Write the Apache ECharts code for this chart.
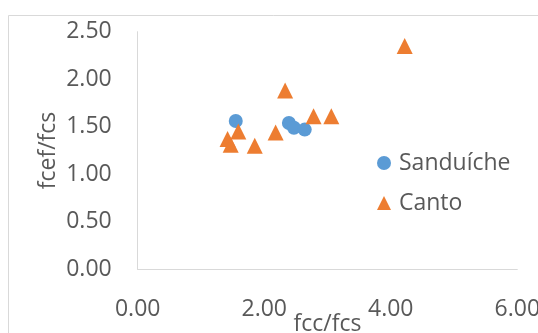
<!DOCTYPE html>
<html>
<head>
<meta charset="utf-8">
<title>fcef/fcs vs fcc/fcs</title>
<script src="https://cdn.jsdelivr.net/npm/echarts@6/dist/echarts.min.js"></script>
<style>
  html, body { margin: 0; padding: 0; background: #ffffff; }
  #chart { width: 538px; height: 333px; }
</style>
</head>
<body>
<div id="chart"></div>
<script>
// Series names
const seriesNames = ['Sanduíche', 'Canto'];

// Sanduíche points: [fcc/fcs, fcef/fcs]
const sanduicheX = [1.55, 2.39, 2.47, 2.64];
const sanduicheY = [1.56, 1.54, 1.49, 1.47];

// Canto points: [fcc/fcs, fcef/fcs]
const cantoX = [4.22, 2.33, 2.78, 3.06, 2.18, 1.59, 1.42, 1.47, 1.85];
const cantoY = [2.35, 1.88, 1.61, 1.61, 1.44, 1.45, 1.37, 1.31, 1.30];

// Axis ranges and tick steps
const xAxisRange = { min: 0, max: 6, interval: 2 };
const yAxisRange = { min: 0, max: 2.5, interval: 0.5 };

const axisTitles = { x: 'fcc/fcs', y: 'fcef/fcs' };

const zip = (xs, ys) => xs.map((x, i) => [x, ys[i]]);

const FONT = "'Open Sans', 'Noto Sans', sans-serif";
const TEXT = '#595959';
const AXIS = '#d9d9d9';

const chart = echarts.init(document.getElementById('chart'), null, { renderer: 'canvas' });

chart.setOption({
  backgroundColor: '#ffffff',
  animation: false,
  textStyle: { fontFamily: FONT, color: TEXT },
  graphic: [{
    type: 'rect',
    silent: true,
    shape: { x: 8.5, y: 15.5, width: 700, height: 500 },
    style: { fill: 'none', stroke: AXIS, lineWidth: 1 }
  }],
  grid: {
    left: 137.7, right: 20.7, top: 31.7, bottom: 63.7,
    containLabel: false,
    outerBoundsMode: 'none'
  },
  xAxis: {
    type: 'value',
    min: xAxisRange.min, max: xAxisRange.max, interval: xAxisRange.interval,
    name: axisTitles.x,
    nameLocation: 'middle',
    nameGap: 44,
    nameMoveOverlap: false,
    nameTextStyle: { fontFamily: FONT, fontSize: 23, color: TEXT },
    axisLine: { show: true, lineStyle: { color: AXIS, width: 1 } },
    axisTick: { show: false },
    splitLine: { show: false },
    axisLabel: {
      margin: 29, fontFamily: FONT, fontSize: 23, color: TEXT,
      hideOverlap: false,
      formatter: v => v.toFixed(2)
    }
  },
  yAxis: {
    type: 'value',
    min: yAxisRange.min, max: yAxisRange.max, interval: yAxisRange.interval,
    name: axisTitles.y,
    nameLocation: 'middle',
    nameGap: 78,
    nameMoveOverlap: false,
    nameTextStyle: { fontFamily: FONT, fontSize: 23, color: TEXT },
    axisLine: { show: true, lineStyle: { color: AXIS, width: 1 } },
    axisTick: { show: false },
    splitLine: { show: false },
    axisLabel: {
      margin: 26, fontFamily: FONT, fontSize: 23, color: TEXT,
      formatter: v => v.toFixed(2)
    }
  },
  legend: {
    orient: 'vertical',
    left: 377,
    top: 151.5,
    padding: 0,
    itemWidth: 14,
    itemHeight: 14,
    itemGap: 17,
    textStyle: { fontFamily: FONT, fontSize: 23, color: TEXT, padding: [0, 0, 0, 3] },
    data: seriesNames
  },
  series: [
    {
      name: seriesNames[0],
      type: 'scatter',
      symbol: 'circle',
      symbolSize: 14,
      itemStyle: { color: '#5B9BD5', opacity: 1 },
      data: zip(sanduicheX, sanduicheY)
    },
    {
      name: seriesNames[1],
      type: 'scatter',
      symbol: 'triangle',
      symbolSize: 16,
      itemStyle: { color: '#ED7D31', opacity: 1 },
      data: zip(cantoX, cantoY)
    }
  ]
});
</script>
</body>
</html>
